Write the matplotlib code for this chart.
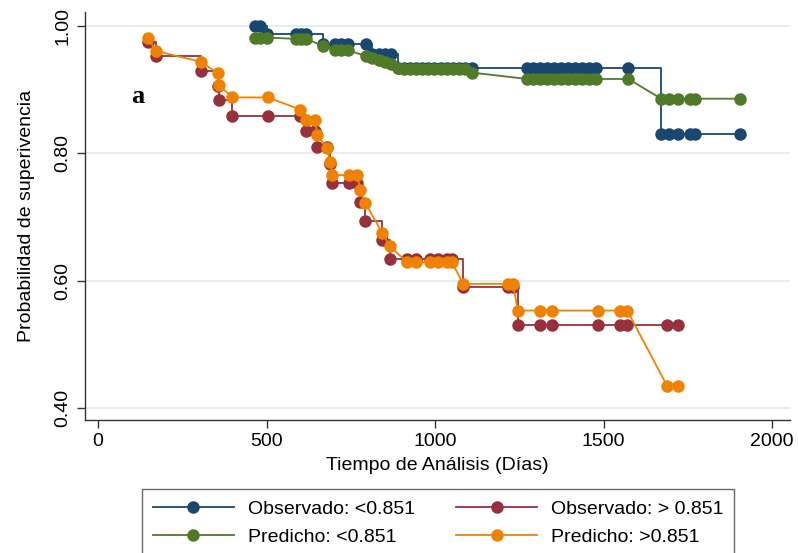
import matplotlib
matplotlib.use("Agg")
import matplotlib.pyplot as plt
from matplotlib.lines import Line2D

# ---- data (days, survival probability) ----
t_lo = [466, 481, 502, 588, 602, 617, 668, 703, 721, 742, 795, 813, 834, 852,
        869, 890, 908, 926, 944, 962, 980, 998, 1016, 1034, 1052, 1070, 1089,
        1110, 1273, 1291, 1312, 1332, 1353, 1374, 1395, 1415, 1436, 1457, 1478,
        1573, 1671, 1694, 1721, 1757, 1772, 1905]
obs_lo = [1.000, 1.000, 0.987, 0.987, 0.987, 0.987, 0.972, 0.972, 0.972, 0.972,
          0.972, 0.956, 0.956, 0.956, 0.956, 0.935, 0.935, 0.935, 0.935, 0.935,
          0.935, 0.935, 0.935, 0.935, 0.935, 0.935, 0.935, 0.935, 0.935, 0.935,
          0.935, 0.935, 0.935, 0.935, 0.935, 0.935, 0.935, 0.935, 0.935, 0.935,
          0.831, 0.831, 0.831, 0.831, 0.831, 0.831]
pred_lo = [0.982, 0.982, 0.982, 0.980, 0.980, 0.980, 0.969, 0.962, 0.962, 0.962,
           0.953, 0.950, 0.947, 0.944, 0.940, 0.935, 0.933, 0.933, 0.933, 0.933,
           0.933, 0.933, 0.933, 0.933, 0.933, 0.933, 0.933, 0.927, 0.917, 0.917,
           0.917, 0.917, 0.917, 0.917, 0.917, 0.917, 0.917, 0.917, 0.917, 0.917,
           0.886, 0.886, 0.886, 0.886, 0.886, 0.886]

t_hi = [148, 172, 304, 356, 360, 398, 504, 599, 618, 644, 650, 680, 688, 694,
        745, 769, 777, 793, 843, 866, 917, 944, 985, 1009, 1036, 1050, 1083,
        1216, 1230, 1246, 1312, 1347, 1484, 1549, 1570, 1688, 1721]
obs_hi = [0.975, 0.953, 0.929, 0.906, 0.884, 0.859, 0.859, 0.859, 0.836, 0.836,
          0.810, 0.810, 0.784, 0.754, 0.754, 0.754, 0.724, 0.694, 0.664, 0.634,
          0.634, 0.634, 0.634, 0.634, 0.634, 0.634, 0.590, 0.590, 0.590, 0.530,
          0.530, 0.530, 0.530, 0.530, 0.530, 0.530, 0.530]
pred_hi = [0.981, 0.961, 0.944, 0.926, 0.907, 0.888, 0.888, 0.869, 0.852, 0.852,
           0.829, 0.808, 0.787, 0.766, 0.766, 0.766, 0.743, 0.722, 0.675, 0.654,
           0.629, 0.629, 0.629, 0.629, 0.629, 0.629, 0.595, 0.595, 0.595, 0.553,
           0.553, 0.553, 0.553, 0.553, 0.553, 0.435, 0.435]

labels = ["Observado: <0.851", "Observado: > 0.851",
          "Predicho: <0.851", "Predicho: >0.851"]
x_ticks = [0, 500, 1000, 1500, 2000]
y_ticks = [0.40, 0.60, 0.80, 1.00]

BLUE, RED, GREEN, ORANGE = "#1a476f", "#96303d", "#4f7a28", "#ef8200"

plt.rcParams["font.family"] = ["Liberation Sans Narrow", "Liberation Sans", "DejaVu Sans"]

fig = plt.figure(figsize=(7.98, 5.53), dpi=100)
ax = fig.add_axes([0.1065, 0.2405, 0.8835, 0.7375])

for y in y_ticks:
    ax.axhline(y, color="#e4edf0", lw=1.4, zorder=0)

mk = dict(marker="o", markersize=9, markeredgewidth=0)
ax.plot(t_lo, obs_lo, drawstyle="steps-post", color=BLUE, lw=1.3, **mk)
ax.plot(t_hi, obs_hi, drawstyle="steps-post", color=RED, lw=1.3, **mk)
ax.plot(t_lo, pred_lo, color=GREEN, lw=1.3, **mk)
ax.plot(t_hi, pred_hi, color=ORANGE, lw=1.3, **mk)

ax.set_xlim(-39, 2053)
ax.set_ylim(0.381, 1.022)
ax.set_xticks(x_ticks)
ax.set_yticks(y_ticks)
ax.set_yticklabels([f"{v:.2f}" for v in y_ticks], rotation=90, va="center")
ax.tick_params(axis="both", labelsize=14, length=6, width=1, color="#333333",
               labelcolor="black")
ax.tick_params(axis="y", pad=4)
for s in ("top", "right"):
    ax.spines[s].set_visible(False)
for s in ("left", "bottom"):
    ax.spines[s].set_color("#333333")
    ax.spines[s].set_linewidth(1)

ax.set_xlabel("Tiempo de Análisis (Días)", fontsize=14, labelpad=5)
ax.set_ylabel("Probabilidad de superivencia", fontsize=14, labelpad=14)

fig.text(0.172, 0.825, "a", fontsize=19, fontweight="bold",
         family=["Liberation Serif", "DejaVu Serif"], ha="center", va="center")

handles = [Line2D([], [], color=c, lw=1.3, marker="o", markersize=9,
                  markeredgewidth=0)
           for c in (BLUE, RED, GREEN, ORANGE)]
order = [0, 2, 1, 3]
leg = fig.legend([handles[i] for i in order], [labels[i] for i in order],
                 ncol=2, loc="lower center", bbox_to_anchor=(0.549, -0.024),
                 fontsize=14, frameon=True, fancybox=False, handlelength=4.2,
                 columnspacing=2.1, handletextpad=0.7, borderpad=0.55,
                 borderaxespad=0.5, labelspacing=0.55)
leg.get_frame().set_edgecolor("#444444")
leg.get_frame().set_linewidth(1.0)

fig.savefig("out.png", dpi=100)
